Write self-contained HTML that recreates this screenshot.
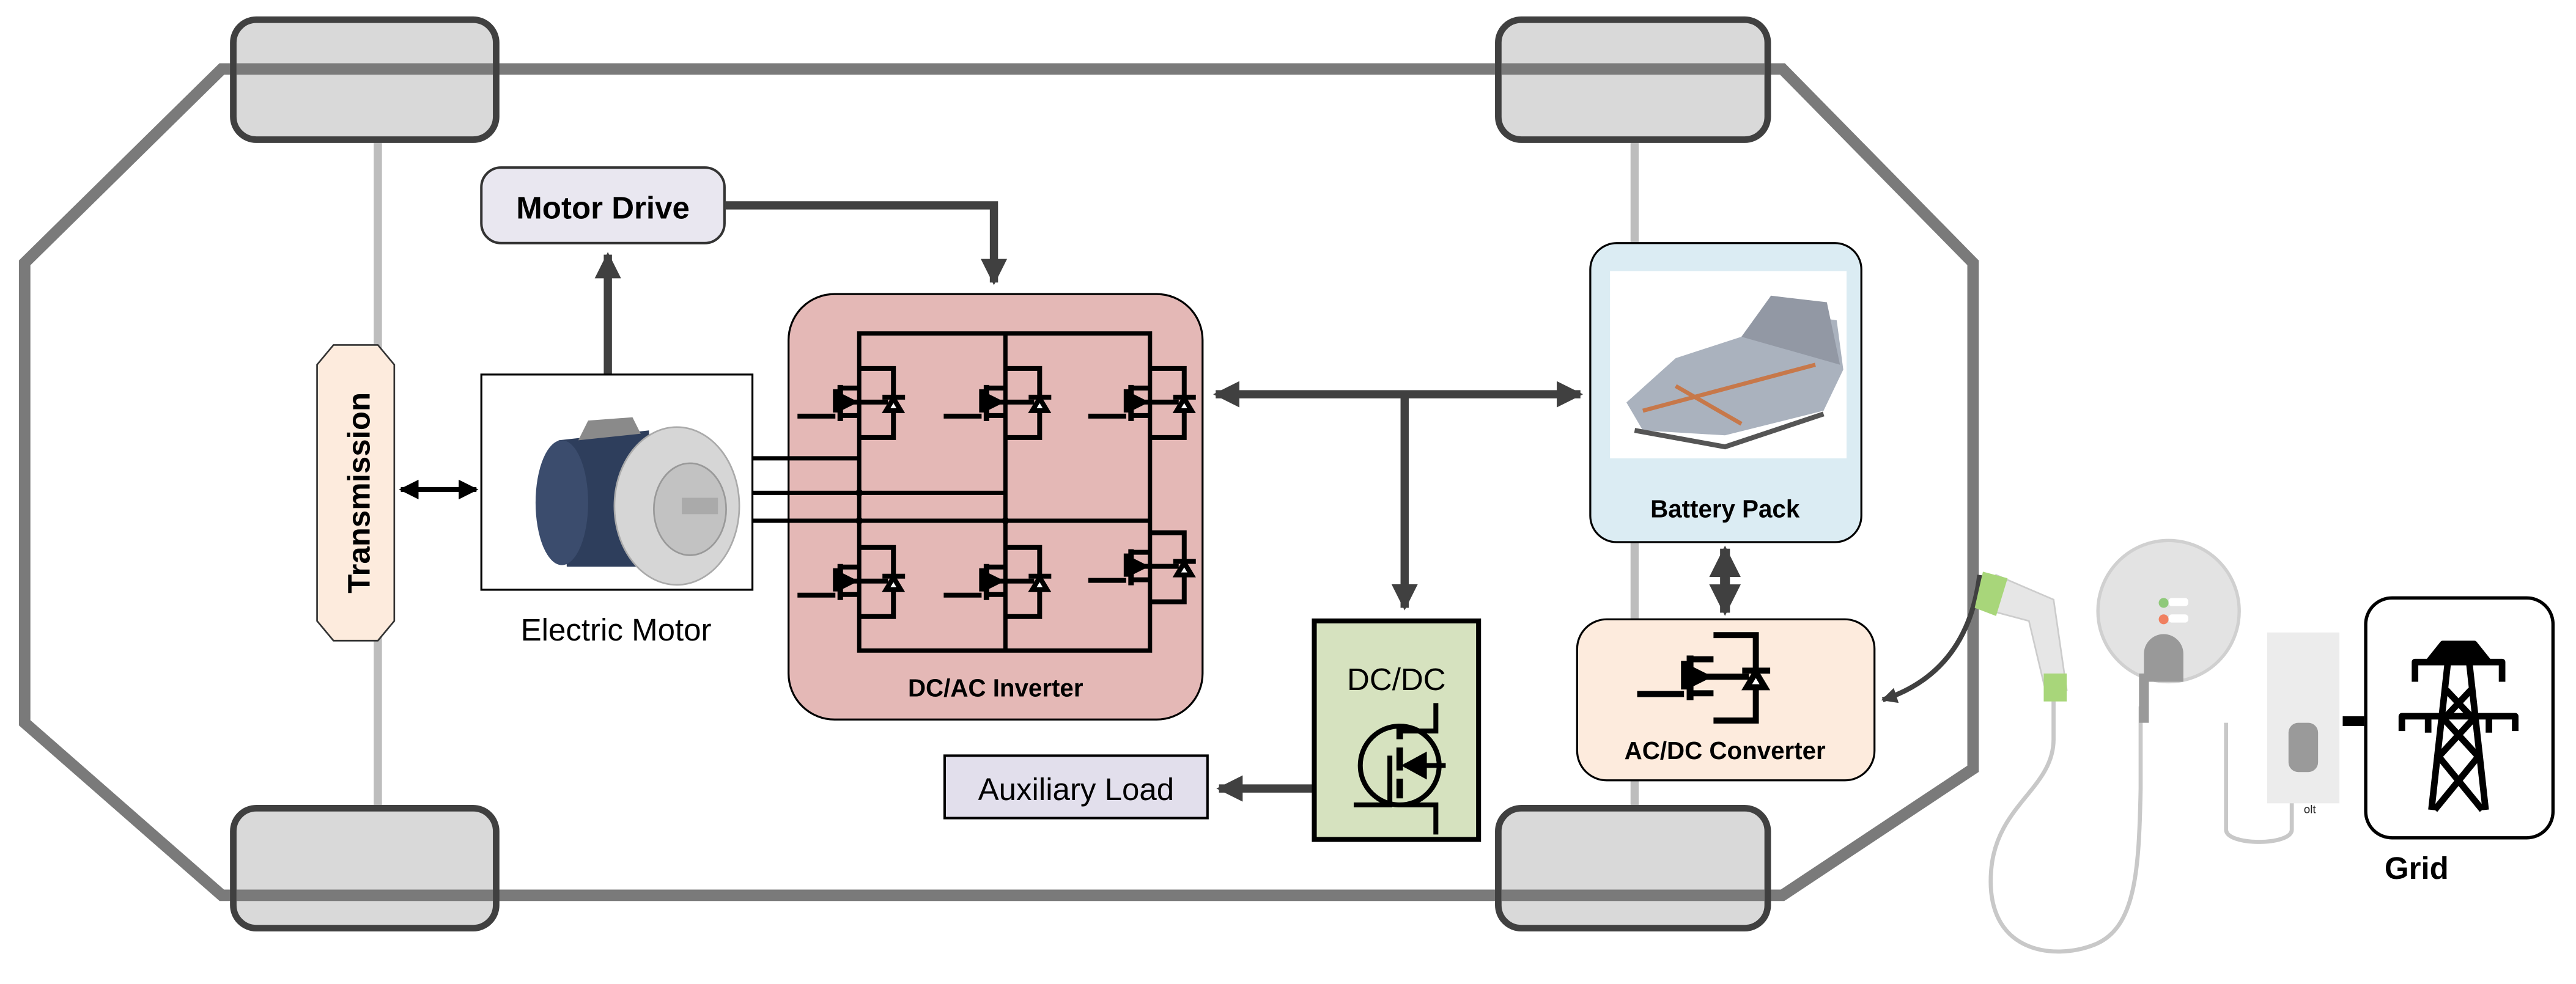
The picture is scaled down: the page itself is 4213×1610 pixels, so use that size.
<!DOCTYPE html>
<html><head><meta charset="utf-8"><style>
html,body{margin:0;padding:0;background:#fff;}
svg{display:block;}
text{font-family:"Liberation Sans",sans-serif;}
</style></head><body>
<svg width="4213" height="1610" viewBox="0 0 1568 599" preserveAspectRatio="none" xmlns="http://www.w3.org/2000/svg">
<defs>
<marker id="ah" viewBox="0 0 10 10" refX="9" refY="5" markerWidth="3.2" markerHeight="3.2" orient="auto-start-reverse" markerUnits="strokeWidth"><path d="M0,0 L10,5 L0,10 z" fill="#404040"/></marker>
<marker id="bh" viewBox="0 0 10 10" refX="9" refY="5" markerWidth="4" markerHeight="5" orient="auto-start-reverse" markerUnits="strokeWidth"><path d="M0,0 L10,5 L0,10 z" fill="#000"/></marker>
<g id="tr" stroke="#000" stroke-width="8" fill="none">
 <path d="M0,-53 H56 V60 H0"/>
 <path d="M-101,25 H-39"/>
 <path d="M-39,-19 V19"/>
 <path d="M-31,-26 V33" stroke-width="9"/>
 <path d="M-31,-21 H0 M-31,24 H0 M-24,2 H47"/>
 <path d="M-26,-6 L-10,2 L-26,10 z" fill="#000"/>
 <path d="M38,-6 H75"/>
 <path d="M56,-4 L44,16 H68 z" fill="#fff"/>
</g>
</defs>
<line x1="230" y1="85" x2="230" y2="495" stroke="#bdbdbd" stroke-width="5"/>
<line x1="995" y1="85" x2="995" y2="495" stroke="#bdbdbd" stroke-width="5"/>
<path d="M135,42 H1085 L1201,160 V468 L1085,545 H135 L15,440 V160 Z" fill="none" stroke="#7a7a7a" stroke-width="7"/>
<g fill="#d9d9d9" stroke="#404040" stroke-width="4">
<rect x="142" y="12" width="160" height="73" rx="14"/>
<rect x="912" y="12" width="164" height="73" rx="14"/>
<rect x="142" y="492" width="160" height="73" rx="14"/>
<rect x="912" y="492" width="164" height="73" rx="14"/>
</g>
<g stroke="#7a7a7a" stroke-width="7">
<line x1="144" y1="42" x2="300" y2="42"/><line x1="914" y1="42" x2="1074" y2="42"/>
<line x1="144" y1="545" x2="300" y2="545"/><line x1="914" y1="545" x2="1074" y2="545"/>
</g>
<rect x="293" y="102" width="148" height="46" rx="12" fill="#e9e7f0" stroke="#333" stroke-width="1.5"/>
<text x="367" y="133" font-size="19" font-weight="bold" text-anchor="middle">Motor Drive</text>
<g stroke="#404040" stroke-width="5" fill="none">
<path d="M441,125 H605 V172" marker-end="url(#ah)"/>
<path d="M370,228 V155" marker-end="url(#ah)"/>
<path d="M740,240 H962" marker-start="url(#ah)" marker-end="url(#ah)"/>
<path d="M855,240 V370" marker-end="url(#ah)"/>
<path d="M1050,334 V373" marker-start="url(#ah)" marker-end="url(#ah)" stroke-width="6"/>
<path d="M800,480 H742" marker-end="url(#ah)"/>
<path d="M1205,350 C1200,390 1180,415 1146,426" stroke-width="3" marker-end="url(#ah)"/>
</g>
<path d="M244,298 H290" stroke="#000" stroke-width="3" marker-start="url(#bh)" marker-end="url(#bh)"/>
<path d="M203,210 H230 L240,222 V378 L230,390 H203 L193,378 V222 Z" fill="#fdebdd" stroke="#333" stroke-width="1"/>
<text transform="translate(225,300) rotate(-90)" font-size="19" font-weight="bold" text-anchor="middle">Transmission</text>
<rect x="293" y="228" width="165" height="131" fill="#fff" stroke="#000" stroke-width="1.2"/>
<path d="M340,268 L395,262 L400,345 L345,345 Z" fill="#2e3e5c"/>
<ellipse cx="342" cy="306" rx="16" ry="38" fill="#3b4c6d"/>
<path d="M352,268 L358,256 L385,254 L390,264 Z" fill="#8a8a8a"/>
<ellipse cx="412" cy="308" rx="38" ry="48" fill="#d6d6d6" stroke="#aaa"/>
<ellipse cx="420" cy="310" rx="22" ry="28" fill="#c2c2c2" stroke="#999"/>
<rect x="415" y="303" width="22" height="10" fill="#aaa"/>
<text x="375" y="390" font-size="19" text-anchor="middle">Electric Motor</text>
<rect x="480" y="179" width="252" height="259" rx="28" fill="#e4b8b6" stroke="#000" stroke-width="1.2"/>
<g stroke="#000" stroke-width="2.6" fill="none">
<path d="M523,203 H700 V396 H523 Z M612,203 V396"/>
<path d="M458,279 H523 M458,300 H612 M458,317 H700"/>
</g>
<g fill="#000"><circle cx="523" cy="300" r="2.2"/><circle cx="523" cy="317" r="2.2"/><circle cx="612" cy="317" r="2.2"/></g>
<use href="#tr" transform="translate(523,244) scale(0.372)"/>
<use href="#tr" transform="translate(612,244) scale(0.372)"/>
<use href="#tr" transform="translate(700,244) scale(0.372)"/>
<use href="#tr" transform="translate(523,353) scale(0.372)"/>
<use href="#tr" transform="translate(612,353) scale(0.372)"/>
<use href="#tr" transform="translate(700,344) scale(0.372)"/>
<text x="606" y="424" font-size="15" font-weight="bold" text-anchor="middle">DC/AC Inverter</text>
<rect x="968" y="148" width="165" height="182" rx="16" fill="#dbecf3" stroke="#000" stroke-width="1.2"/>
<rect x="980" y="165" width="144" height="114" fill="#fff"/>
<path d="M990,245 L1020,218 L1060,205 L1098,192 L1118,195 L1122,225 L1110,250 L1050,265 L1000,262 Z" fill="#aab2be"/>
<path d="M1060,205 L1078,180 L1112,184 L1120,222 Z" fill="#9298a4"/>
<path d="M1000,250 L1105,222 M1020,235 L1060,258" stroke="#c7784a" stroke-width="2.5"/>
<path d="M995,262 L1050,272 L1110,252" stroke="#555" stroke-width="3" fill="none"/>
<text x="1050" y="315" font-size="15" font-weight="bold" text-anchor="middle">Battery Pack</text>
<rect x="960" y="377" width="181" height="98" rx="18" fill="#fdebdd" stroke="#000" stroke-width="1.2"/>
<use href="#tr" transform="translate(1043,411) scale(0.46)"/>
<text x="1050" y="462" font-size="15" font-weight="bold" text-anchor="middle">AC/DC Converter</text>
<rect x="800" y="378" width="100" height="133" fill="#d6e2bf" stroke="#000" stroke-width="3"/>
<text x="850" y="420" font-size="19" text-anchor="middle">DC/DC</text>
<g stroke="#000" stroke-width="3" fill="none">
<circle cx="852" cy="466" r="24"/>
<path d="M824,490 H846 V460"/>
<path d="M852,455 V469 M852,474 V486 M852,441 V450" stroke-width="4"/>
<path d="M852,445 H874 V428 M852,490 H874 V508 M855,466 H880"/>
<path d="M856,466 L867,460 V472 z" fill="#000"/>
</g>
<rect x="575" y="460" width="160" height="38" fill="#e2dfec" stroke="#000" stroke-width="1.5"/>
<text x="655" y="487" font-size="19" text-anchor="middle">Auxiliary Load</text>
<g fill="none" stroke="#c8c8c8" stroke-width="2.5">
<path d="M1250,425 V450 C1250,480 1215,490 1212,530 C1208,580 1250,585 1275,575 C1300,565 1302,530 1303,480 V430"/>
<path d="M1355,440 V505 C1355,515 1395,515 1395,505 V470"/>
</g>
<path d="M1215,350 L1250,365 L1258,420 L1245,420 L1235,378 L1205,370 Z" fill="#e6e6e6" stroke="#ccc"/>
<path d="M1207,348 L1222,352 L1215,375 L1202,370 Z" fill="#a8d67a"/>
<rect x="1244" y="410" width="14" height="17" fill="#a8d67a"/>
<circle cx="1320" cy="372" r="43" fill="#e3e3e3" stroke="#d0d0d0" stroke-width="2"/>
<path d="M1305,415 V398 A12,12 0 0 1 1329,398 V415 Z" fill="#999"/>
<rect x="1302" y="410" width="6" height="30" fill="#999"/>
<circle cx="1317" cy="367" r="3" fill="#8fc97a"/><circle cx="1317" cy="377" r="3" fill="#f08060"/>
<rect x="1320" y="364" width="12" height="5" rx="2" fill="#fff"/><rect x="1320" y="374" width="12" height="5" rx="2" fill="#fff"/>
<rect x="1380" y="385" width="44" height="104" fill="#ececec"/>
<rect x="1393" y="440" width="18" height="30" rx="6" fill="#9a9a9a"/>
<text x="1406" y="495" font-size="7" text-anchor="middle" fill="#222">olt</text>
<rect x="1426" y="436" width="13" height="6" fill="#000"/>
<rect x="1440" y="364" width="114" height="146" rx="16" fill="#fff" stroke="#000" stroke-width="2"/>
<g stroke="#000" stroke-width="4" fill="none" stroke-linejoin="round">
<path d="M1487,392 H1506 L1514,402 H1479 Z" fill="#000"/>
<path d="M1470,415 V403 H1523 V415"/>
<path d="M1462,445 V436 H1531 V445 M1478,436 V446 M1515,436 V446"/>
<path d="M1490,403 L1480,493 M1503,403 L1513,493"/>
<path d="M1489,420 L1504,436 M1504,420 L1489,436 M1486,436 L1508,460 M1507,436 L1485,460 M1484,460 L1511,493 M1509,460 L1482,493"/>
</g>
<text x="1471" y="535" font-size="19" font-weight="bold" text-anchor="middle">Grid</text>
</svg>
</body></html>
